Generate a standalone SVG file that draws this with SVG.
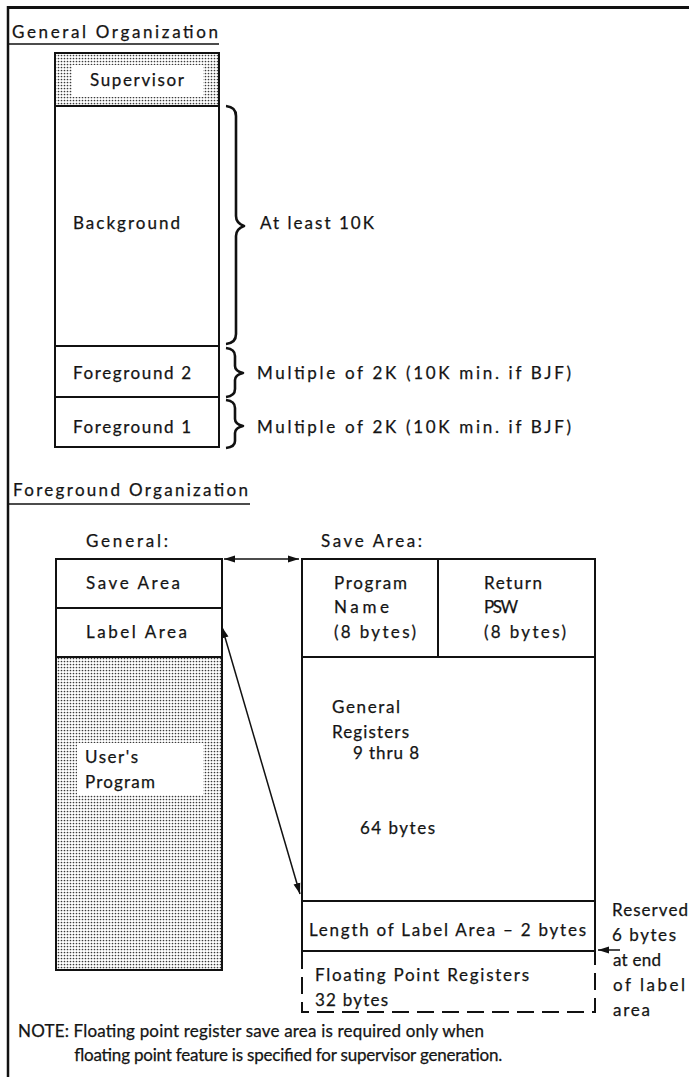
<svg xmlns="http://www.w3.org/2000/svg" width="689" height="1077" viewBox="0 0 689 1077">
<defs>
<pattern id="dots" width="3" height="3" patternUnits="userSpaceOnUse">
<rect width="3" height="3" fill="#fff"/>
<circle cx="1.5" cy="1.5" r="0.85" fill="#3a3a3a"/>
</pattern>
<marker id="ah" markerUnits="userSpaceOnUse" markerWidth="11" markerHeight="8" refX="11" refY="4" orient="auto-start-reverse">
<path d="M0,0.5 L11,4 L0,7.5 z" fill="#111"/>
</marker>
</defs>
<style>
text{font-family:Lato,"Open Sans","DejaVu Sans",sans-serif;font-size:17px;fill:#141414;stroke:#141414;stroke-width:0.25}
.box{fill:#fff;stroke:#111;stroke-width:2}
.dot{fill:url(#dots);stroke:#111;stroke-width:2}
.ln{fill:none;stroke:#111;stroke-width:2}
.thin{fill:none;stroke:#111;stroke-width:1.5}
.brace{fill:none;stroke:#111;stroke-width:2.6;stroke-linejoin:round}
.dash{fill:none;stroke:#111;stroke-width:2;stroke-dasharray:17 8}
.con{fill:none;stroke:#111;stroke-width:1.5}
</style>
<rect width="689" height="1077" fill="#fff"/>
<g id="frame">
<line x1="8" y1="7.5" x2="689" y2="7.5" stroke="#111" stroke-width="3"/>
<line x1="8" y1="6" x2="8" y2="1077" stroke="#111" stroke-width="2.5"/>
</g>
<g id="title-general">
<text x="12" y="38" textLength="206" lengthAdjust="spacing">General Organization</text>
<line class="thin" x1="9" y1="44" x2="219" y2="44"/>
</g>
<g id="supervisor">
<rect class="dot" x="55" y="53" width="164" height="53"/>
<rect x="72" y="65" width="131" height="32" fill="#fff"/>
<text x="90" y="86" textLength="94" lengthAdjust="spacing">Supervisor</text>
</g>
<g id="background">
<rect class="box" x="55" y="106" width="164" height="240"/>
<text x="73" y="229" textLength="107" lengthAdjust="spacing">Background</text>
</g>
<g id="foreground2">
<rect class="box" x="55" y="346" width="164" height="51"/>
<text x="73" y="379" textLength="118" lengthAdjust="spacing">Foreground 2</text>
</g>
<g id="foreground1">
<rect class="box" x="55" y="397" width="164" height="50"/>
<text x="73" y="433" textLength="118" lengthAdjust="spacing">Foreground 1</text>
</g>
<g id="brace-background">
<path class="brace" d="M226,106 Q236,107 236,116 V216 Q236,223 244,226 Q236,229 236,236 V334 Q236,343 226,344"/>
<text x="260" y="229" textLength="114" lengthAdjust="spacing">At least 10K</text>
</g>
<g id="brace-fg2">
<path class="brace" d="M226,348 Q235,349 235,356 V366 Q235,371 243,373 Q235,375 235,380 V389 Q235,396 226,397"/>
<text x="257" y="379" textLength="314" lengthAdjust="spacing">Multiple of 2K (10K min. if BJF)</text>
</g>
<g id="brace-fg1">
<path class="brace" d="M226,400 Q235,401 235,408 V419 Q235,424 243,426 Q235,428 235,433 V441 Q235,447 226,448"/>
<text x="257" y="433" textLength="314" lengthAdjust="spacing">Multiple of 2K (10K min. if BJF)</text>
</g>
<g id="title-foreground">
<text x="13" y="496" textLength="235" lengthAdjust="spacing">Foreground Organization</text>
<line class="thin" x1="9" y1="504" x2="250" y2="504"/>
</g>
<g id="general-column">
<text x="86" y="547" textLength="82" lengthAdjust="spacing">General:</text>
<rect class="box" x="56" y="559" width="166" height="49"/>
<text x="86" y="589" textLength="94" lengthAdjust="spacing">Save Area</text>
<rect class="box" x="56" y="608" width="166" height="49"/>
<text x="86" y="638" textLength="101" lengthAdjust="spacing">Label Area</text>
<rect class="dot" x="56" y="657" width="166" height="313"/>
<rect x="77" y="743" width="126" height="52" fill="#fff"/>
<text x="85" y="763" textLength="53" lengthAdjust="spacing">User's</text>
<text x="85" y="788" textLength="70" lengthAdjust="spacing">Program</text>
</g>
<g id="save-area">
<text x="321" y="547" textLength="101" lengthAdjust="spacing">Save Area:</text>
<rect class="box" x="302" y="559" width="293" height="392"/>
<line class="ln" x1="438" y1="559" x2="438" y2="657"/>
<line class="ln" x1="302" y1="657" x2="595" y2="657"/>
<line class="ln" x1="302" y1="901" x2="595" y2="901"/>
<text x="334" y="589" textLength="73" lengthAdjust="spacing">Program</text>
<text x="334" y="613" textLength="55" lengthAdjust="spacing">Name</text>
<text x="334" y="638" textLength="82" lengthAdjust="spacing">(8 bytes)</text>
<text x="484" y="589" textLength="58" lengthAdjust="spacing">Return</text>
<text x="484" y="613" textLength="34" lengthAdjust="spacing">PSW</text>
<text x="484" y="638" textLength="82" lengthAdjust="spacing">(8 bytes)</text>
<text x="332" y="713" textLength="68" lengthAdjust="spacing">General</text>
<text x="332" y="738" textLength="77" lengthAdjust="spacing">Registers</text>
<text x="353" y="759" textLength="66" lengthAdjust="spacing">9 thru 8</text>
<text x="360" y="834" textLength="75" lengthAdjust="spacing">64 bytes</text>
<text x="309" y="936" textLength="277" lengthAdjust="spacing">Length of Label Area – 2 bytes</text>
</g>
<g id="fp-registers">
<path class="dash" d="M302,952 V1012 H595 V952"/>
<text x="315" y="981" textLength="214" lengthAdjust="spacing">Floating Point Registers</text>
<text x="315" y="1006" textLength="73" lengthAdjust="spacing">32 bytes</text>
</g>
<g id="reserved-note">
<text x="612" y="916" textLength="76" lengthAdjust="spacing">Reserved</text>
<text x="612" y="941" textLength="64" lengthAdjust="spacing">6 bytes</text>
<text x="613" y="966" textLength="48" lengthAdjust="spacing">at end</text>
<text x="613" y="991" textLength="72" lengthAdjust="spacing">of label</text>
<text x="613" y="1016" textLength="37" lengthAdjust="spacing">area</text>
</g>
<g id="note">
<text x="18" y="1037" textLength="466" lengthAdjust="spacing">NOTE: Floating point register save area is required only when</text>
<text x="74" y="1061" textLength="428" lengthAdjust="spacing">floating point feature is specified for supervisor generation.</text>
</g>
<g id="connectors">
<line class="con" x1="224" y1="559" x2="299" y2="559" marker-start="url(#ah)" marker-end="url(#ah)"/>
<line class="con" x1="222" y1="627" x2="300" y2="894" marker-start="url(#ah)" marker-end="url(#ah)"/>
<line class="con" x1="620" y1="950" x2="598" y2="950" marker-end="url(#ah)"/>
</g>
</svg>
